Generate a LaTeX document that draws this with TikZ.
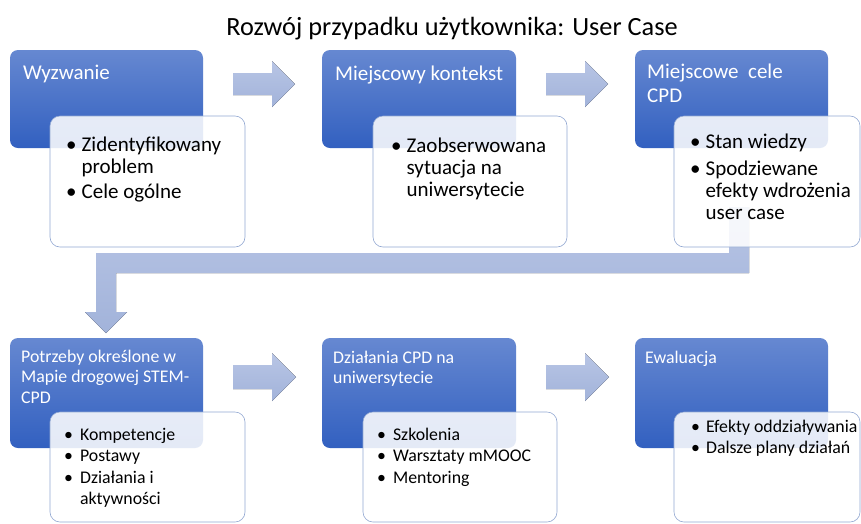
\documentclass[tikz,border=0pt]{standalone}
\usepackage{fontspec}
\setmainfont{Carlito}
\definecolor{bluetop}{RGB}{102,136,209}
\definecolor{bluebot}{RGB}{50,96,192}
\definecolor{arrtop}{RGB}{184,197,229}
\definecolor{arrbot}{RGB}{162,179,218}
\definecolor{wborder}{RGB}{146,168,210}
\begin{document}
\begin{tikzpicture}[x=1pt,y=-1pt,
  bluebox/.style={rounded corners=8pt, top color=bluetop, bottom color=bluebot, draw=none,
    inner sep=0pt, outer sep=0pt, anchor=north west},
  whitebox/.style={rounded corners=10pt, fill=white, fill opacity=0.87, draw=wborder,
    draw opacity=1, line width=0.6pt, inner sep=0pt, outer sep=0pt, anchor=north west},
  blockarrow/.style={top color=arrtop, bottom color=arrbot, draw=none},
  toptitle/.style={font=\fontsize{21}{24.5}\selectfont, text=white, inner sep=0pt, anchor=base west},
  botitle/.style={font=\fontsize{17.8}{20.5}\selectfont, text=white, inner sep=0pt, anchor=base west},
  toplist/.style={font=\fontsize{21}{22}\selectfont, text=black, inner sep=0pt, anchor=base west},
  botlist/.style={font=\fontsize{17.8}{21.5}\selectfont, text=black, inner sep=0pt, anchor=base west},
  titlestyle/.style={font=\fontsize{26.3}{30}\selectfont, text=black, inner sep=0pt, anchor=base}
]
\useasboundingbox (0,0) rectangle (861,523);
\fill[white] (0,0) rectangle (861,523);

% title
\node[titlestyle] (title) at (452,35) {Rozwój przypadku użytkownika: User Case};

% blue boxes
\node[bluebox, minimum width=193pt, minimum height=98pt] (b1) at (10,50) {};
\node[bluebox, minimum width=194pt, minimum height=98pt] (b2) at (322,50) {};
\node[bluebox, minimum width=193pt, minimum height=98pt] (b3) at (635,50) {};
\node[bluebox, minimum width=193pt, minimum height=110pt] (b4) at (10,338) {};
\node[bluebox, minimum width=194pt, minimum height=110pt] (b5) at (322,338) {};
\node[bluebox, minimum width=193pt, minimum height=110pt] (b6) at (635,338) {};

% block arrows
\fill[blockarrow] (233,73) -- (272,73) -- (272,61) -- (295,84) -- (272,107) -- (272,95) -- (233,95) -- cycle;
\fill[blockarrow] (546,73) -- (585,73) -- (585,61) -- (608,84) -- (585,107) -- (585,95) -- (546,95) -- cycle;
\fill[blockarrow] (233,365) -- (272,365) -- (272,353) -- (296,377) -- (272,401) -- (272,389) -- (233,389) -- cycle;
\fill[blockarrow] (546,365) -- (585,365) -- (585,353) -- (609,377) -- (585,401) -- (585,389) -- (546,389) -- cycle;
\fill[blockarrow] (729,207) -- (749,207) -- (749,273) -- (116,273) -- (116,312) -- (127,312)
  -- (106,333) -- (85,312) -- (96,312) -- (96,253) -- (729,253) -- cycle;

% white boxes
\node[whitebox, minimum width=195pt, minimum height=131pt] (w1) at (50,116) {};
\node[whitebox, minimum width=194pt, minimum height=131pt] (w2) at (373,116) {};
\node[whitebox, minimum width=186pt, minimum height=131pt] (w3) at (674,116) {};
\node[whitebox, minimum width=195pt, minimum height=110pt] (w4) at (50,412) {};
\node[whitebox, minimum width=194pt, minimum height=110pt] (w5) at (363,412) {};
\node[whitebox, minimum width=186pt, minimum height=110pt] (w6) at (674,412) {};

% blue box titles
\node[toptitle] (t1) at (23,79) {Wyzwanie};
\node[toptitle] (t2) at (335,80) {Miejscowy kontekst};
\node[toptitle] (t3) at (647,78) {\begin{tabular}[t]{@{}l@{}}Miejscowe\ \ cele\\CPD\end{tabular}};
\node[botitle] (t4) at (21,362) {\begin{tabular}[t]{@{}l@{}}Potrzeby określone w\\Mapie drogowej STEM-\\CPD\end{tabular}};
\node[botitle] (t5) at (333,363) {\begin{tabular}[t]{@{}l@{}}Działania CPD na\\uniwersytecie\end{tabular}};
\node[botitle] (t6) at (645,363) {Ewaluacja};

% white box lists
\node[toplist] (l1) at (66,151) {\begin{tabular}[t]{@{}l@{\hspace{5pt}}l@{}}
  \textbullet & Zidentyfikowany\\ & problem\\[3.5pt] \textbullet & Cele ogólne\end{tabular}};
\node[toplist] (l2) at (391,152) {\begin{tabular}[t]{@{}l@{\hspace{5pt}}l@{}}
  \textbullet & Zaobserwowana\\ & sytuacja na\\ & uniwersytecie\end{tabular}};
\node[toplist] (l3) at (690,148) {\begin{tabular}[t]{@{}l@{\hspace{5pt}}l@{}}
  \textbullet & Stan wiedzy\\[5.5pt] \textbullet & Spodziewane\\ & efekty wdrożenia\\ & user case\end{tabular}};
\node[botlist] (l4) at (64,440) {\begin{tabular}[t]{@{}l@{\hspace{7pt}}l@{}}
  \textbullet & Kompetencje\\ \textbullet & Postawy\\ \textbullet & Działania i\\[-0.5pt] & aktywności\end{tabular}};
\node[botlist] (l5) at (377,440) {\begin{tabular}[t]{@{}l@{\hspace{7pt}}l@{}}
  \textbullet & Szkolenia\\ \textbullet & Warsztaty mMOOC\\ \textbullet & Mentoring\end{tabular}};
\node[botlist] (l6) at (691,432) {\begin{tabular}[t]{@{}l@{\hspace{6pt}}l@{}}
  \textbullet & Efekty oddziaływania\\ \textbullet & Dalsze plany działań\end{tabular}};
\end{tikzpicture}
\end{document}
